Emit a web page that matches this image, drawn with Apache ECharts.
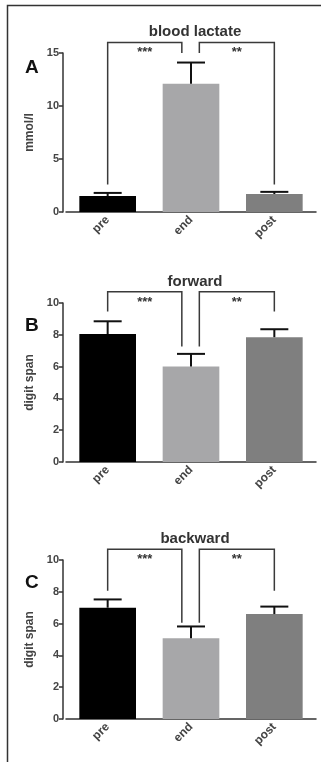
<!DOCTYPE html>
<html>
<head>
<meta charset="utf-8">
<script src="https://cdn.jsdelivr.net/npm/echarts@6/dist/echarts.min.js"></script>
<style>
  html, body { margin: 0; padding: 0; background: #fff; }
  #chart { width: 321px; height: 762px; }
</style>
</head>
<body>
<div id="chart"></div>
<script>
// data
const categories = ['pre', 'end', 'post'];
const lactateMean = [1.5, 12.1, 1.7];
const lactateUpper = [1.8, 14.1, 1.9];
const forwardMean = [8.05, 6.0, 7.85];
const forwardUpper = [8.85, 6.8, 8.35];
const backwardMean = [7.0, 5.08, 6.6];
const backwardUpper = [7.52, 5.82, 7.07];
// significance brackets: [fromCat, toCat, top, leftLegEnd, rightLegEnd, label]
const lactateBrackets = [[0, 0.89, 16.0, 2.6, 15.0, '***'], [1.1, 2, 16.0, 15.0, 2.6, '**']];
const forwardBrackets = [[0, 0.89, 10.7, 9.47, 7.27, '***'], [1.1, 2, 10.7, 7.27, 9.47, '**']];
const backwardBrackets = [[0, 0.89, 10.67, 8.07, 6.06, '***'], [1.1, 2, 10.67, 6.06, 8.07, '**']];

const panels = [
  { title: 'blood lactate', letter: 'A', yName: 'mmol/l', max: 15, interval: 5, top: 53, mean: lactateMean, upper: lactateUpper, brackets: lactateBrackets },
  { title: 'forward', letter: 'B', yName: 'digit span', max: 10, interval: 2, top: 303, mean: forwardMean, upper: forwardUpper, brackets: forwardBrackets },
  { title: 'backward', letter: 'C', yName: 'digit span', max: 10, interval: 2, top: 560, mean: backwardMean, upper: backwardUpper, brackets: backwardBrackets }
];
const barColors = ['#000000', '#a7a7a9', '#7f7f7f'];
const axisColor = '#333';
const font = 'Liberation Sans';

const chart = echarts.init(document.getElementById('chart'));

// x pixel of a fractional category position
function catX(api, v) {
  const k = Math.floor(v);
  return api.coord([k, 0])[0] + (v - k) * api.size([1, 0])[0];
}

let grid = [], xAxis = [], yAxis = [], series = [], title = [];
panels.forEach((p, i) => {
  grid.push({ left: 66, width: 250, top: p.top, height: 159 });
  title.push({
    text: p.title, left: 190, top: p.top - 34, textAlign: 'center',
    textStyle: { fontFamily: font, fontSize: 15, fontWeight: 'bold', color: '#333' }
  });
  title.push({
    text: p.letter, left: 20, top: p.top + (i === 0 ? 0 : 8),
    textStyle: { fontFamily: font, fontSize: 19, fontWeight: 'bold', color: '#111' }
  });
  xAxis.push({
    type: 'category', gridIndex: i, data: categories,
    axisLine: { lineStyle: { color: axisColor, width: 1.5 } },
    axisTick: { alignWithLabel: true, length: 5, lineStyle: { color: axisColor, width: 1.5 } },
    axisLabel: { rotate: 45, fontFamily: font, fontSize: 12, fontWeight: 'bold', color: '#444', margin: 6 }
  });
  yAxis.push({
    type: 'value', gridIndex: i, min: 0, max: p.max, interval: p.interval, offset: 3,
    name: p.yName, nameLocation: 'middle', nameGap: 23, nameRotate: 90,
    nameTextStyle: { fontFamily: font, fontSize: 12, fontWeight: 'bold', color: '#444' },
    splitLine: { show: false },
    axisLine: { show: true, lineStyle: { color: axisColor, width: 1.5 } },
    axisTick: { show: true, length: 4, lineStyle: { color: axisColor, width: 1.5 } },
    axisLabel: { fontFamily: font, fontSize: 11, fontWeight: 'bold', color: '#444', margin: 4 }
  });
  series.push({
    type: 'bar', xAxisIndex: i, yAxisIndex: i, barWidth: '68%',
    data: p.mean.map((v, k) => ({ value: v, itemStyle: { color: barColors[k] } }))
  });
  // upper error whiskers
  series.push({
    type: 'custom', xAxisIndex: i, yAxisIndex: i, z: 5,
    data: p.mean.map((v, k) => [k, v, p.upper[k]]),
    renderItem: (params, api) => {
      const a = api.coord([api.value(0), api.value(1)]);
      const b = api.coord([api.value(0), api.value(2)]);
      const st = { stroke: '#111', lineWidth: 2 };
      return { type: 'group', children: [
        { type: 'line', shape: { x1: a[0], y1: a[1], x2: b[0], y2: b[1] }, style: st },
        { type: 'line', shape: { x1: b[0] - 14, y1: b[1], x2: b[0] + 14, y2: b[1] }, style: st }
      ] };
    }
  });
  // significance brackets
  series.push({
    type: 'custom', xAxisIndex: i, yAxisIndex: i, z: 6, clip: false,
    data: p.brackets.map((d, k) => [k]),
    renderItem: (params, api) => {
      const d = p.brackets[params.dataIndex];
      const x1 = catX(api, d[0]), x2 = catX(api, d[1]);
      const yTop = api.coord([0, d[2]])[1];
      const yL = api.coord([0, d[3]])[1];
      const yR = api.coord([0, d[4]])[1];
      return { type: 'group', children: [
        { type: 'polyline', shape: { points: [[x1, yL], [x1, yTop], [x2, yTop], [x2, yR]] }, style: { stroke: '#3a3a3a', lineWidth: 1.5, fill: null } },
        { type: 'text', x: (x1 + x2) / 2, y: yTop + 4,
          style: { text: d[5], fontFamily: font, fontSize: 13, fontWeight: 'bold', fill: '#333', align: 'center', verticalAlign: 'top' } }
      ] };
    }
  });
});

chart.setOption({
  animation: false,
  title: title,
  grid: grid,
  xAxis: xAxis,
  yAxis: yAxis,
  series: series,
  graphic: [
    { type: 'polyline', shape: { points: [[7.5, 762], [7.5, 5.5], [321, 5.5]] }, style: { stroke: '#333', lineWidth: 1.5, fill: null } }
  ]
});
</script>
</body>
</html>
